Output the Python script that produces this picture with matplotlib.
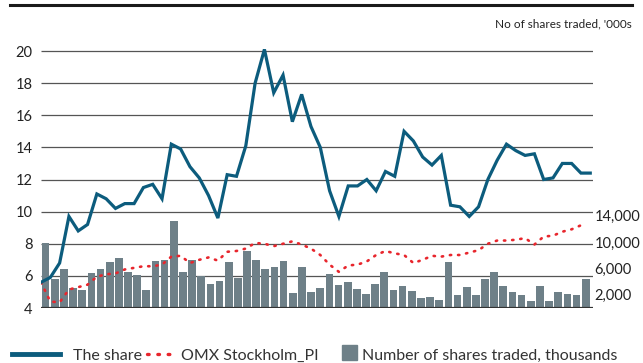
import numpy as np
import matplotlib.pyplot as plt
from matplotlib.lines import Line2D
from matplotlib.patches import Rectangle

plt.rcParams['font.family'] = ['Lato', 'DejaVu Sans']

# monthly data, Jan 2009 - Dec 2013
share = [5.6, 5.9, 6.8, 9.7, 8.8, 9.2, 11.1, 10.8, 10.2, 10.5, 10.5, 11.5,
         11.7, 10.8, 14.2, 13.9, 12.8, 12.1, 11.0, 9.6, 12.3, 12.2, 14.1, 18.0,
         20.1, 17.4, 18.5, 15.6, 17.3, 15.3, 14.0, 11.3, 9.7, 11.6, 11.6, 12.0,
         11.3, 12.5, 12.2, 15.0, 14.4, 13.4, 12.9, 13.5, 10.4, 10.3, 9.7, 10.3,
         12.0, 13.2, 14.2, 13.8, 13.5, 13.6, 12.0, 12.1, 13.0, 13.0, 12.4, 12.4]

omx = [5.6, 4.4, 4.35, 5.15, 5.3, 5.45, 5.95, 6.1, 6.15, 6.4, 6.5, 6.6,
       6.6, 6.7, 7.2, 7.25, 6.8, 7.0, 7.15, 6.95, 7.5, 7.55, 7.7, 8.05,
       8.0, 7.85, 8.0, 8.15, 7.95, 7.7, 7.3, 6.7, 6.25, 6.65, 6.7, 6.9,
       7.3, 7.55, 7.4, 7.3, 6.8, 7.0, 7.25, 7.2, 7.3, 7.3, 7.45, 7.6,
       8.0, 8.2, 8.2, 8.25, 8.35, 7.95, 8.45, 8.5, 8.75, 8.9, 9.15]

volume = [9800, 4400, 5900, 3000, 2700, 5300, 5900, 6900, 7600, 5400, 5000, 2700,
          7100, 7300, 13200, 5500, 7300, 4800, 3600, 4100, 6900, 4600, 8600, 7300,
          5900, 6200, 7200, 2300, 6200, 2500, 3000, 5200, 3500, 4000, 2900, 2100,
          3700, 5500, 2800, 3400, 2600, 1500, 1700, 1200, 7000, 2000, 3200, 2000,
          4400, 5400, 3300, 2400, 1900, 1000, 3300, 1100, 2400, 2100, 2000, 4400]

years = ['2009', '2010', '2011', '2012', '2013']
year_pos = [1.7, 12.4, 24.4, 36.5, 48.6]
share_ticks = [4, 6, 8, 10, 12, 14, 16, 18, 20]
volume_ticks = [2000, 6000, 10000, 14000]

blue = '#0c5c7d'
red = '#e8262d'
bar_col = '#6e8088'
grid_col = '#555555'
dotted = (0, (0.5, 2.6))

W, H = 643, 363
fx = lambda x: x / W
fy = lambda y: 1 - y / H

fig = plt.figure(figsize=(W / 100, H / 100), dpi=100)
ax_vol = fig.add_axes([fx(41), fy(308), 552 / W, 261.8 / H])
ax = ax_vol.twinx()
ax.set_zorder(ax_vol.get_zorder() + 1)
ax.patch.set_visible(False)

ax.set_xlim(0, 60.3)
ax.set_ylim(4, 20.3)
ax_vol.set_ylim(0, 39700)

# gridlines sit behind the bars
ax_vol.hlines(share_ticks[1:], 0, 60.3, transform=ax.transData,
              color=grid_col, lw=0.9, zorder=0)

xb = np.arange(len(volume)) + 0.5
ax_vol.bar(xb, volume, width=0.84, color=bar_col, zorder=2)

xs = np.arange(len(share)) * 60 / 59
ax.plot(xs, share, color=blue, lw=2.3, solid_joinstyle='miter', zorder=4)
xo = np.arange(len(omx)) * 60 / 59
ax.plot(xo, omx, color=red, lw=1.9, linestyle=dotted,
        dash_capstyle='round', zorder=3)
ax.axhline(4, color='#333333', lw=1.6, zorder=5)

for a in (ax, ax_vol):
    for s in a.spines.values():
        s.set_visible(False)

ax.yaxis.tick_left()
ax.set_yticks(share_ticks)
ax.tick_params(axis='y', length=0, pad=6, labelsize=10.5, colors='#222222')
ax.set_xticks(year_pos)
ax.set_xticklabels(years)
ax.tick_params(axis='x', length=0, pad=7, labelsize=10, colors='#333333')

ax_vol.yaxis.tick_right()
ax_vol.set_yticks(volume_ticks)
ax_vol.set_yticklabels([f'{v:,}' for v in volume_ticks])
ax_vol.tick_params(axis='y', length=0, pad=1, labelsize=10.5, colors='#222222')
ax_vol.set_xticks([])

fig.add_artist(Line2D([fx(10), fx(632)], [fy(5), fy(5)], color='#1a1a1a', lw=2.2))
fig.text(fx(632), fy(24), "No of shares traded, '000s", ha='right', va='center',
         fontsize=8.5, color='#222222')

# legend along the bottom edge
ly = 354
tb = 360
fig.add_artist(Line2D([fx(12), fx(60)], [fy(ly), fy(ly)], color=blue, lw=3.5))
fig.text(fx(73), fy(tb), 'The share', va='baseline', fontsize=11.5, color='#333333')
fig.add_artist(Line2D([fx(147), fx(172)], [fy(ly), fy(ly)], color=red, lw=2.4,
                      linestyle=dotted, dash_capstyle='round'))
fig.text(fx(181), fy(tb), 'OMX Stockholm_PI', va='baseline', fontsize=11.5, color='#333333')
fig.add_artist(Rectangle((fx(342), fy(360)), 15 / W, 15 / H, color=bar_col,
                         transform=fig.transFigure))
fig.text(fx(362), fy(tb), 'Number of shares traded, thousands', va='baseline',
         fontsize=11.5, color='#333333')

fig.savefig('out.png', dpi=100)
